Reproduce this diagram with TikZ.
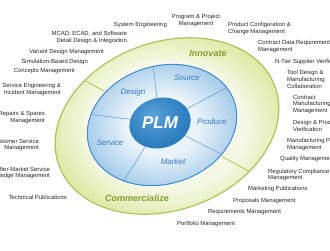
\documentclass[tikz,border=0pt]{standalone}
\usepackage{fontspec}
\setmainfont{Liberation Sans}
\usetikzlibrary{calc}
\definecolor{ringfill}{RGB}{220,231,158}
\definecolor{ringlight}{RGB}{245,248,228}
\definecolor{ringline}{RGB}{168,198,92}
\definecolor{ringtext}{RGB}{128,160,45}
\definecolor{discinner}{RGB}{234,243,250}
\definecolor{discouter}{RGB}{158,200,232}
\definecolor{discline}{RGB}{72,142,204}
\definecolor{disctext}{RGB}{55,120,190}
\definecolor{plmfill}{RGB}{42,124,190}
\definecolor{plmlight}{RGB}{88,162,215}
\pgfdeclareradialshading{ringshade}{\pgfpoint{0bp}{0bp}}{color(0bp)=(ringlight); color(16bp)=(ringlight); color(25bp)=(ringfill); color(50bp)=(ringfill)}
\pgfdeclareradialshading{discshade}{\pgfpoint{0bp}{0bp}}{color(0bp)=(discinner); color(11bp)=(discinner); color(25bp)=(discouter); color(50bp)=(discouter)}
\pgfdeclareradialshading{plmshade}{\pgfpoint{-6bp}{8bp}}{color(0bp)=(plmlight); color(25bp)=(plmfill); color(50bp)=(plmfill)}
\tikzset{
	x=1pt, y=1pt,
	ring/.style={rotate around={20:(RC)}},
	disc/.style={rotate around={17:(DC)}},
	core/.style={rotate around={15:(PC)}},
	task/.style={font=\fontsize{5.9}{6.7}\selectfont, inner sep=0pt, text=black!85},
	taskL/.style={task, anchor=east, align=right},
	taskR/.style={task, anchor=west, align=left},
	phase/.style={font=\fontsize{8}{9}\selectfont\itshape, text=disctext},
	stage/.style={font=\fontsize{9}{10}\selectfont\bfseries\itshape, text=ringtext},
}

\begin{document}
\begin{tikzpicture}
	\useasboundingbox (0,0) rectangle (330,250);
	\clip (0,0) rectangle (330,250);
	\coordinate (RC) at (167,124);
	\coordinate (DC) at (162,125);
	\coordinate (PC) at (160,127);
	%
	\shade[ring, shading=ringshade] (RC) ellipse [x radius=115pt, y radius=84pt];
	\begin{scope}
		\clip[ring] (RC) ellipse [x radius=115pt, y radius=84pt];
		\draw[ringline, line width=0.8pt] ($(RC)+(151:150)$) -- ($(RC)+(-29:150)$);
	\end{scope}
	\draw[ring, ringline, line width=1.2pt] (RC) ellipse [x radius=115pt, y radius=84pt];
	%
	\draw[disc, white, line width=3pt] (DC) ellipse [x radius=76pt, y radius=59pt];
	\shade[disc, shading=discshade] (DC) ellipse [x radius=76pt, y radius=59pt];
	\begin{scope}
		\clip[disc] (DC) ellipse [x radius=76pt, y radius=59pt];
		\foreach \a in {97, 28, -27, -122, 173}
			\draw[discline!80, line width=0.6pt] (PC) -- ($(PC)+(\a:100)$);
	\end{scope}
	\draw[disc, discline, line width=1.1pt] (DC) ellipse [x radius=76pt, y radius=59pt];
	%
	\shade[core, shading=plmshade] (PC) ellipse [x radius=31pt, y radius=25pt];
	\node[text=white, font=\fontsize{17}{17}\selectfont\bfseries\itshape] (PLM) at (PC) {PLM};
	%
	\node[phase] (DES) at (133,158) {Design};
	\node[phase] (SRC) at (187,172) {Source};
	\node[phase] (PRD) at (212,128) {Produce};
	\node[phase] (MKT) at (173,88) {Market};
	\node[phase] (SRV) at (110,107) {Service};
	\node[stage] (INN) at (208,197) {Innovate};
	\node[stage] (COM) at (137,52) {Commercialize};
	%
	\node[taskL] (SYS) at (167,225) {System Engineering};
	\node[taskL] (MCAD) at (127,212.5) {MCAD, ECAD, and Software\\Detail Design \& Integration};
	\node[taskL] (VAR) at (104,198) {Variant Design Management};
	\node[taskL] (SIM) at (88,188) {Simulation-Based Design};
	\node[taskL] (CON) at (75,179) {Concepts Management};
	\node[taskL] (SEI) at (61,160.5) {Service Engineering \&\\Incident Management};
	\node[taskL] (REP) at (45,132.5) {Repairs \& Spares\\Management};
	\node[taskL] (CUS) at (39,105) {Customer Service\\Management};
	\node[taskL] (AMS) at (50,77) {After-Market Service\\Knowledge Management};
	\node[taskL] (TPB) at (67,53) {Technical Publications};
	%
	\node[task, align=center] (PPM) at (196,229.5) {Program \& Project\\Management};
	\node[taskR] (PCM) at (228,221.5) {Product Configuration \&\\Change Management};
	\node[taskR] (CDR) at (258,203.5) {Contract Data Requirements\\Management};
	\node[taskR] (NTS) at (275,188) {N-Tier Supplier Verification};
	\node[taskR] (TDM) at (287,170.5) {Tool Design \&\\Manufacturing\\Collaboration};
	\node[taskR] (CMM) at (293,145.5) {Contract\\Manufacturing\\Management};
	\node[taskR] (DPV) at (293,124) {Design \& Process\\Verification};
	\node[taskR] (MPM) at (287,105.5) {Manufacturing Process\\Management};
	\node[taskR] (QUA) at (280,91) {Quality Management};
	\node[taskR] (REG) at (268,75) {Regulatory Compliance\\Management};
	\node[taskR] (MPB) at (248,61) {Marketing Publications};
	\node[taskR] (PRO) at (233,49) {Proposals Management};
	\node[taskR] (REQ) at (208,38) {Requirements Management};
	\node[taskR] (POR) at (177,26) {Portfolio Management};
\end{tikzpicture}
\end{document}
